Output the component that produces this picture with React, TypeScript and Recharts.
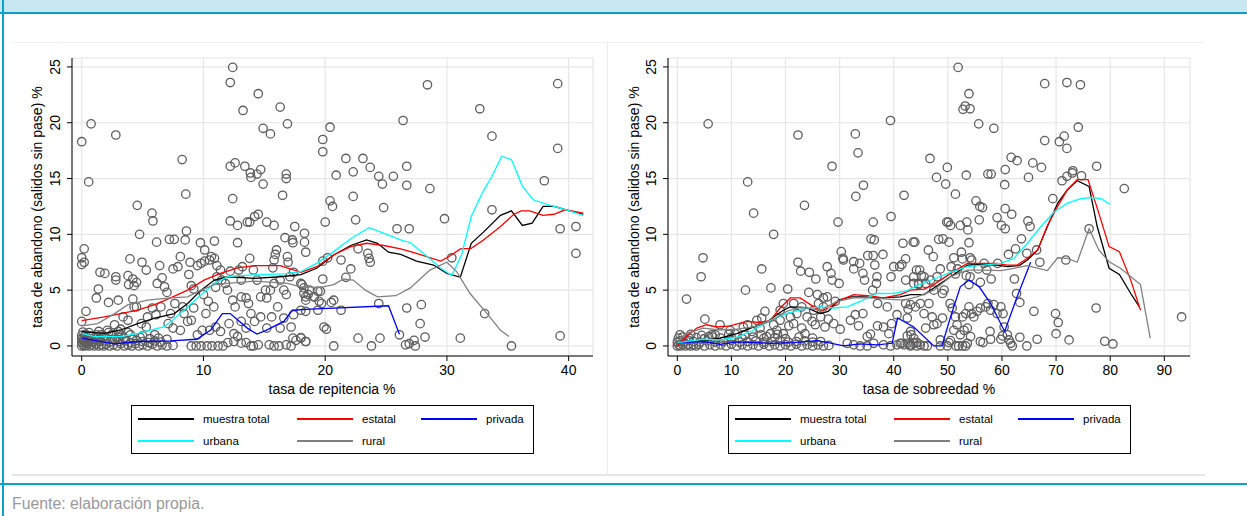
import React from 'react';
import { ScatterChart, Scatter, XAxis, YAxis, CartesianGrid } from 'recharts';

type P = [number, number];

// ---------- ticks ----------
const repTicksX = [0, 10, 20, 30, 40];
const sobTicksX = [0, 10, 20, 30, 40, 50, 60, 70, 80, 90];
const yTicks = [0, 5, 10, 15, 20, 25];

// ---------- panel 1: tasa de repitencia ----------
const repPoints: P[] = [
  [0,18.3],[0.77,19.9],[0.57,14.7],[2.8,18.9],[0,7.9],[0,7.3],[0.2,8.7],[0.2,7.5],[0.35,3.1],[0,2.2],
  [8.25,16.7],[8.55,13.6],[4.56,12.6],[5.77,11.9],[5.85,11.2],[4.75,10.0],[6.15,9.3],[7.2,9.55],[7.6,9.55],[8.6,10.3],[8.5,9.5],[9.75,9.25],[10.1,8.6],[10.9,9.4],
  [12.2,23.6],[12.4,24.96],[13.25,21.1],[14.5,22.6],[16.3,21.4],[14.9,19.5],[15.5,19.0],[16.9,19.9],
  [12.2,16.1],[12.6,16.4],[12.4,13.2],[13.4,16.1],[13.85,15.5],[13.9,15.1],[14.4,15.4],[14.7,15.8],[14.9,14.5],[16.5,13.5],[16.8,15.4],[16.8,15.0],
  [12.2,11.2],[12.8,10.8],[13.6,11.1],[13.8,11.1],[14.2,11.6],[14.5,11.8],[15.2,11.1],[15.8,10.8],[17.5,10.7],
  [12.8,9.25],[16.7,9.7],[17.3,9.5],[17.35,9.25],[18.3,10.1],[18.4,8.4],
  [1.5,6.6],[1.9,6.5],[1.2,4.3],[1.37,5.1],[2.2,3.9],[3.0,4.1],[2.8,5.9],[2.8,6.2],[3.8,6.3],[3.96,7.8],[3.85,5.5],[4.2,6.0],[4.5,5.7],[4.3,5.4],[4.2,4.2],[4.3,3.5],[4.5,3.5],[4.95,7.5],[5.3,6.8],[6.2,5.6],[6.4,7.2],[6.6,6.1],[6.8,5.3],[7.0,4.8],[7.5,6.9],[7.9,7.1],[8.1,8.0],[8.8,6.4],[8.9,7.5],[9.0,5.4],[9.2,5.1],[9.5,7.2],[9.8,7.4],[10.1,7.6],[10.5,7.7],[10.65,8.0],[10.9,7.85],[11.1,7.2],[11.4,6.8],[11.1,6.2],[11.5,5.9],[11.8,5.6],[11.97,5.0],[11.0,5.25],[10.85,3.5],[10.4,4.0],[10.0,4.6],[9.2,3.4],[10.2,2.9],[8.7,2.2],[9.0,2.3],[8.4,2.9],[8.3,3.5],[7.65,3.8],[7.3,2.9],[7.1,2.0],[7.5,1.6],[8.1,1.4],[6.5,3.5],[6.1,2.8],[5.8,3.4],[5.4,2.6],[5.3,1.7],[4.9,2.0],[3.8,2.3],[3.4,2.6],[3.2,1.5],[2.7,1.9],[2.1,1.4],[1.6,1.0],
  [12.2,6.7],[12.9,6.8],[13.2,7.1],[13.1,5.9],[12.4,4.1],[12.6,3.5],[13.1,4.4],[13.5,4.3],[13.7,3.8],[13.8,7.85],[14.1,6.8],[14.4,5.9],[14.7,4.4],[15.1,5.0],[15.2,4.3],[15.5,5.0],[15.8,5.6],[15.9,8.2],[16.0,8.6],[15.8,7.7],[15.7,7.0],[16.3,5.9],[16.6,5.0],[16.8,4.6],[16.9,8.0],[16.95,7.5],[17.1,6.2],[17.4,6.6],[18.0,5.6],[18.25,5.2],[18.4,4.4],[18.7,5.0],[19.1,4.4],[19.4,4.9],[19.5,4.0],[18.0,3.2],[17.4,2.8],[17.2,1.7],[16.6,2.5],[16.3,1.6],[16.1,3.5],[15.6,2.6],[15.2,1.6],[14.7,2.6],[14.2,2.2],[13.9,2.9],[13.5,1.6],[13.1,2.2],[12.8,0.85],[12.5,1.1],[12.1,2.0],[11.4,1.3],[11.0,1.7],[10.5,1.4],[9.9,1.4],[9.5,1.0],
  [17.35,0.7],[17.6,0.5],[18.0,0.7],[18.4,0.4],[15.4,0.1],[15.8,0],[16.2,0],[16.8,0.1],[17.2,0],[13.9,0],[14.1,0],[14.5,0.1],[13.1,0.25],[13.5,0.3],[12.0,0.3],[12.5,0.4],
  [9.0,0],[9.4,0],[9.8,0],[10.3,0],[10.7,0],[11.2,0],[11.6,0],
  [28.4,23.4],[39.1,23.5],[26.4,20.2],[20.4,19.6],[19.8,18.5],[19.8,17.4],[32.7,21.25],[33.7,18.8],[39.1,17.7],[21.7,16.8],[23.1,16.8],[22.3,15.6],[23.7,16.0],[26.7,16.1],[20.9,15.3],[24.4,15.2],[25.6,15.2],[24.7,14.5],[26.7,14.4],[28.6,14.1],[22.3,13.4],[20.4,13.0],[20.6,12.5],[24.8,12.4],[38.0,14.8],[33.7,12.2],[20.0,11.1],[22.5,11.3],[29.8,11.4],[25.9,10.5],[26.9,10.5],[39.3,10.5],[40.6,10.7],[40.6,8.3],[18.3,9.3],[22.7,8.7],[23.5,8.3],[23.6,7.85],[23.7,7.5],[21.3,7.7],[19.8,7.6],[20.2,7.9],[22.1,6.9],[21.7,6.15],[19.8,6.0],[30.4,7.9],[18.1,5.5],[18.25,4.7],[18.6,4.6],[19.1,4.4],[19.6,4.9],[18.4,4.1],[19.7,3.8],[20.5,3.9],[20.7,4.1],[19.4,3.2],[18.4,3.1],[21.3,3.2],[24.4,3.8],[26.7,3.4],[27.9,3.7],[27.8,2.0],[33.1,2.9],[19.9,1.7],[20.1,1.5],[18.0,0.75],[18.4,0.4],[20.7,0],[22.7,0.7],[23.8,0],[24.5,0.7],[26.1,1.0],[26.6,0.1],[26.9,0.2],[27.3,0.5],[27.4,0],[28.2,0.8],[31.1,0.7],[35.3,0],[39.3,0.9],
  [0,0],[0.1,0.15],[0.2,0],[0.3,0.3],[0.4,0.05],[0.5,0.2],[0.6,0],[0.8,0.1],[1.0,0],[1.2,0.2],[1.4,0],[1.6,0.1],[1.8,0],[2.0,0.15],[2.3,0],[2.6,0.1],[2.9,0],[3.2,0.2],[3.5,0],[3.8,0.1],[4.1,0],[4.4,0.2],[4.7,0],[5.0,0.1],[5.4,0],[5.8,0.15],[6.2,0],[6.6,0.1],[7.0,0],[7.5,0.05],
  [0,0.35],[0.15,0.5],[0.35,0.4],[0.6,0.45],[0.9,0.35],[1.2,0.5],[1.5,0.4],[1.9,0.45],[2.3,0.35],[2.7,0.5],[3.1,0.4],[3.6,0.45],[4.0,0.3],[4.5,0.5],[5.0,0.4],[5.5,0.3],[6.0,0.45],[6.5,0.35],
  [0,0.65],[0.2,0.8],[0.5,0.7],[0.8,0.6],[1.1,0.75],[1.5,0.65],[2.0,0.7],[2.5,0.6],[3.0,0.8],[3.5,0.7],[4.2,0.6],[4.8,0.75],[5.6,0.65],[6.3,0.7],[7.0,0.6],
  [0,0.95],[0.3,1.05],[0.7,0.9],[1.2,1.0],[1.8,0.9],[2.5,1.05],[3.3,0.95],[4.0,1.0],[5.0,0.9],[6.0,1.0],
  [0.1,1.25],[0.6,1.2],[1.4,1.3],[2.2,1.2],[3.0,1.3],[3.8,1.2],
];

const repTotal: P[] = [[0,1.28],[1.86,1.13],[3.2,1.43],[4.6,2.0],[6.0,2.5],[7.6,2.9],[8.7,3.8],[9.8,5.0],[10.9,5.9],[12.0,6.2],[14.2,6.06],[16.3,6.2],[18.0,6.4],[19.3,6.96],[20.7,8.15],[22.1,9.0],[23.4,9.5],[24.3,9.2],[25.2,8.4],[26.2,8.2],[27.5,7.6],[28.9,7.25],[30.0,6.5],[31.1,6.15],[32.0,9.2],[33.0,10.2],[34.4,11.7],[35.3,12.1],[36.2,10.8],[37.0,11.0],[37.9,12.5],[38.8,12.5],[39.8,12.2],[41.2,11.8]];
const repEstatal: P[] = [[0,2.27],[1.86,2.6],[3.2,2.9],[4.6,3.2],[6.0,3.7],[7.3,4.3],[8.7,5.0],[10.05,5.9],[11.4,6.5],[12.8,7.0],[14.2,7.2],[16.3,7.2],[18.0,6.6],[19.3,7.1],[20.7,8.15],[22.1,8.9],[23.4,9.2],[24.8,9.0],[26.2,8.7],[27.5,8.3],[28.9,7.8],[29.5,7.6],[30.3,8.1],[31.1,8.7],[32.0,8.75],[33.0,9.5],[34.4,10.7],[35.5,11.8],[36.1,12.1],[36.8,12.1],[37.9,11.7],[38.8,11.8],[39.7,12.2],[41.2,11.9]];
const repPrivada: P[] = [[0,0.7],[2.7,0.18],[4.6,0.4],[7.3,0.45],[9.45,0.6],[10.6,1.43],[11.55,2.9],[12.2,2.9],[13.6,1.6],[14.4,1.07],[15.1,1.37],[16.6,2.2],[17.3,3.2],[18.8,3.3],[25.2,3.6],[26.1,1.04]];
const repUrbana: P[] = [[0,1.13],[1.04,0.84],[3.2,0.84],[4.6,1.13],[6.8,1.73],[8.1,2.9],[9.5,4.3],[10.9,5.6],[12.0,6.2],[12.8,6.3],[14.2,6.36],[16.6,6.45],[18.0,6.66],[19.3,7.4],[20.7,8.45],[22.1,9.6],[23.6,10.6],[24.8,10.1],[26.2,9.5],[27.0,9.25],[28.4,8.0],[29.5,6.96],[30.4,6.3],[31.2,8.15],[32.0,11.6],[32.9,13.7],[33.7,15.2],[34.5,17.0],[35.3,16.7],[36.2,14.3],[37.1,13.1],[38.5,12.6],[39.8,12.2],[41.2,11.7]];
const repRural: P[] = [[0,1.8],[1.3,2.0],[2.7,2.9],[3.8,3.7],[5.4,4.1],[7.3,4.3],[8.7,4.4],[9.8,5.0],[10.9,5.5],[12.0,5.6],[14.2,5.8],[16.9,5.6],[18.0,5.3],[19.6,5.25],[20.7,5.5],[21.5,6.0],[22.3,5.9],[23.3,5.0],[24.3,4.4],[25.8,4.5],[27.0,5.2],[28.6,6.8],[30.0,7.5],[30.8,6.66],[31.9,4.7],[33.3,2.9],[34.4,1.4],[35.1,0.84]];

// ---------- panel 2: tasa de sobreedad ----------
const sobPoints: P[] = [
  [5.7,19.9],[22.3,18.9],[32.9,19.0],[33.4,17.3],[39.4,20.2],[28.6,16.1],[13.0,14.7],[34.4,14.4],[33.0,13.4],[41.9,13.5],[23.5,12.6],[14.1,11.9],[29.7,11.1],[36.2,11.1],[39.5,11.6],[17.8,10.0],[4.75,7.9],[4.4,6.2],[1.7,4.2],[5.1,2.4],[12.6,5.0],[15.6,6.9],[17.3,5.2],[20.4,5.1],[19.0,3.2],[16.2,3.1],[14.7,2.3],[15.6,2.5],[13.0,1.9],[12.2,1.7],[7.9,1.9],[5.8,0.84],[6.4,1.0],
  [22.3,7.5],[22.8,6.7],[24.4,6.6],[25.6,6.0],[24.3,4.8],[25.9,4.6],[27.0,4.3],[27.7,4.4],[29.2,4.0],[27.7,7.1],[28.4,6.5],[28.6,5.9],[29.9,5.6],[30.3,8.45],[30.6,7.85],[30.7,7.7],[32.6,7.55],[32.6,6.9],[33.7,7.4],[34.3,6.5],[34.6,5.9],[35.2,8.1],[35.8,9.6],[36.4,9.5],[36.2,8.1],[36.5,7.25],[36.9,6.2],[36.8,5.6],[38.0,8.2],[36.1,5.0],[37.0,3.8],[38.8,3.5],[39.5,6.2],[40.0,7.1],[41.1,7.1],[41.5,7.3],[42.2,7.8],[41.7,9.2],[43.6,9.3],[43.9,9.3],[44.2,6.8],[43.7,6.2],[44.6,5.6],
  [23.6,1.1],[23.0,1.6],[21.5,2.0],[20.6,1.8],[19.0,2.3],[18.4,1.4],[17.2,1.1],[24.9,2.2],[25.5,1.9],[26.5,2.6],[27.3,1.7],[27.9,2.4],[28.9,2.0],[30.1,1.5],[32.0,2.3],[32.9,2.8],[33.5,1.8],[34.3,2.9],[35.1,0.84],[35.7,1.07],[37.0,1.8],[38.1,1.7],[39.1,1.1],[39.6,2.0],[40.6,2.8],[41.2,0.24],[42.5,0.9],[43.1,1.3],[44.3,0.3],[42.5,2.5],[42.2,3.8],[42.65,3.3],
  [9.75,1.4],[10.7,1.1],[13.8,1.3],[15.3,1.6],[16.5,0.84],[17.8,1.9],[19.6,1.1],[20.9,2.6],[22.1,2.9],[24.0,2.6],[25.2,3.2],[26.1,3.8],[27.0,3.5],[21.5,3.8],[23.0,3.5],[19.6,3.8],
  [31.4,0.24],[32.6,0.1],[33.8,0],[35.1,0],[36.3,0.24],[38.1,0.1],[39.4,0],[40.6,0.1],[41.5,0.24],[43.1,0],[44.3,0],
  [51.9,24.96],[53.9,22.6],[52.8,21.2],[53.2,21.5],[54.1,21.25],[55.7,19.9],[58.5,19.5],[67.9,23.5],[72.0,23.6],[74.5,23.4],[74.1,19.6],[67.9,18.4],[70.6,18.3],[71.5,18.8],[72.0,17.7],[46.7,16.8],[61.7,16.9],[62.8,16.6],[49.9,16.0],[65.7,16.4],[67.3,16.0],[77.5,16.1],[60.6,15.8],[47.9,15.1],[53.4,15.3],[57.4,15.4],[58.0,15.4],[60.5,14.45],[64.9,15.1],[49.6,14.5],[71.1,14.8],[72.0,15.2],[73.0,15.5],[73.1,15.7],[74.7,15.25],[82.6,14.1],[51.4,13.6],[55.2,13.0],[55.9,12.5],[56.4,12.4],[69.4,13.2],[60.6,12.3],[61.8,11.8],[55.8,11.3],[59.1,11.5],[49.8,11.1],[50.1,11.1],[50.5,10.8],[52.3,10.8],[53.5,11.1],[53.7,10.4],[59.9,10.8],[60.6,10.5],[64.8,11.2],[65.2,10.7],[76.1,10.5],
  [48.3,9.55],[49.1,9.6],[50.2,9.3],[53.9,9.25],[63.6,9.6],[46.4,8.6],[47.3,8.0],[51.1,7.9],[52.7,7.8],[52.5,8.4],[54.1,7.9],[54.4,7.7],[61.2,8.2],[62.5,8.7],[64.6,8.3],[66.4,8.6],[67.0,7.5],[71.8,7.7],[44.8,6.8],[45.1,6.3],[45.6,6.2],[48.6,6.9],[48.0,6.2],[50.6,7.1],[51.8,6.9],[51.4,6.45],[53.4,6.3],[55.6,6.9],[57.2,6.8],[56.7,7.4],[59.2,7.4],[58.0,6.0],[56.0,5.7],[53.9,5.5],[54.1,6.2],[62.3,6.0],[62.7,4.7],[63.3,3.9],[65.9,3.1],[69.9,2.9],[70.4,2.1],[70.0,1.1],[72.4,0.54],[77.4,3.4],[79.0,0.42],[80.5,0.18],[93.2,2.6],
  [42.2,5.9],[43.7,5.6],[44.6,5.5],[45.9,5.6],[46.8,5.9],[47.4,5.0],[49.0,4.7],
  [43.1,3.7],[44.0,3.5],[44.9,3.8],[45.6,2.9],[46.5,3.8],[47.1,2.6],[48.0,2.0],[49.0,2.5],[49.3,5.0],[50.4,3.8],[50.8,3.4],[51.4,2.6],[51.7,1.9],[52.7,2.6],[53.3,2.9],[53.9,3.5],[54.4,2.9],[54.8,2.6],[55.4,3.1],[56.0,3.4],[57.0,3.5],[57.4,3.8],[57.9,3.2],[58.5,3.7],[59.1,2.9],[59.8,3.5],[60.2,2.9],[60.4,1.7],[61.0,1.0],[61.3,0.54],[61.6,0.24],[61.9,0],[63.3,0.78],[64.6,0],[66.5,0.6],[59.8,0.6],[60.1,0.9],
  [41.9,0.1],[42.5,0.24],[43.1,0.1],[43.7,0.24],[44.3,0.3],[44.9,0.1],[45.6,0],[46.2,0],[48.6,0],[49.9,0],[50.2,0.3],[50.5,0.48],[51.5,0],[52.0,0],[52.7,0],[53.3,0],[53.6,0.24],[54.2,0.84],[56.0,0.4],[56.5,0.3],[57.9,0.6],[57.8,1.3],
  [43.2,1.0],[43.7,0.7],[45.9,1.6],[47.4,1.9],[48.6,0.54],[51.1,1.4],[53.0,1.4],[53.6,1.6],[52.3,1.0],
  [0,0],[0.3,0.1],[0.6,0],[1,0.15],[1.5,0],[2,0.1],[2.5,0],[3,0.1],[3.5,0],[4,0.15],[5,0],[6,0.1],[7,0],[8,0.1],[9,0],[10,0.15],[11,0],[12,0.1],[13,0],[14,0.1],[15,0],[16,0.15],[17,0],[18,0.1],[19,0],[20,0.1],[21,0],[22,0.15],[23,0],[24,0.1],[25,0],[26,0.1],[27,0],[28,0.05],
  [0,0.35],[0.5,0.45],[1.2,0.35],[2,0.5],[3,0.4],[4.2,0.35],[5.5,0.45],[7,0.35],[8.5,0.4],[10,0.5],[11.5,0.35],[13,0.4],[14.5,0.45],[16,0.35],[17.5,0.4],[19,0.5],[20.5,0.35],[22,0.4],[23.5,0.45],[25,0.35],[26.5,0.4],
  [0.2,0.7],[1,0.8],[2.2,0.7],[3.5,0.75],[5,0.65],[6.5,0.8],[8,0.7],[10,0.75],[12,0.65],[14,0.8],[16,0.7],[18,0.75],[20,0.65],[22.5,0.8],[25,0.7],
  [0.5,1.0],[2.5,1.05],[4.5,0.95],[7,1.0],[9.5,1.05],[12.5,0.95],[15.5,1.0],[18.5,1.05],
];

const sobTotal: P[] = [[0,0.3],[1.7,0.4],[4.8,0.48],[7.9,0.7],[11.0,1.1],[14.1,1.7],[16.5,2.1],[17.8,2.6],[19.6,3.2],[20.9,3.5],[24.0,3.4],[26.4,2.9],[27.9,3.1],[29.8,4.1],[32.0,4.4],[34.4,4.4],[38.1,4.3],[41.2,4.4],[43.1,4.6],[45.6,4.6],[47.4,5.2],[50.5,6.2],[53.6,7.25],[56.6,7.3],[59.1,7.25],[61.0,7.1],[63.2,7.2],[64.7,7.7],[66.6,8.6],[68.4,10.7],[70.3,12.8],[72.1,14.0],[73.9,14.8],[76.1,14.3],[77.6,10.7],[79.8,6.96],[81.7,6.4],[83.8,4.7],[85.4,3.5]];
const sobEstatal: P[] = [[0,0],[1.7,0.84],[3.6,1.6],[5.4,1.9],[7.3,1.7],[9.75,1.8],[12.8,2.2],[15.3,2.1],[17.2,2.3],[19.0,3.4],[20.9,4.3],[22.7,4.3],[24.6,3.7],[26.4,3.1],[28.3,3.5],[30.1,4.1],[32.6,4.6],[35.1,4.5],[38.1,4.3],[41.2,4.6],[43.1,5.0],[45.6,5.1],[47.4,5.5],[50.5,6.5],[53.6,7.4],[56.6,7.4],[59.1,7.4],[61.0,7.25],[62.8,7.25],[64.7,7.85],[66.6,8.6],[68.4,10.8],[70.3,12.5],[72.1,14.0],[73.9,14.9],[75.9,14.9],[77.9,11.9],[79.8,8.9],[81.7,8.45],[83.8,5.9],[85.6,3.2]];
const sobPrivada: P[] = [[0,0.3],[4.8,0.4],[7.9,0.15],[11.0,0.36],[14.1,0.3],[17.2,0.24],[21.5,0.3],[25.8,0.48],[27.9,0.3],[30.7,0],[33.8,0.18],[36.9,0.09],[39.7,0.24],[40.7,2.5],[43.7,1.7],[47.4,0],[48.9,0],[50.5,2.6],[52.3,5.3],[53.9,5.9],[55.8,5.3],[57.9,3.8],[60.5,1.3],[62.8,4.4],[65.3,7.5]];
const sobUrbana: P[] = [[0,0.3],[4.8,0.6],[7.9,0.54],[11.0,0.78],[14.1,1.43],[17.2,2.3],[20.2,2.9],[23.3,3.3],[26.4,3.5],[28.9,3.4],[31.4,3.5],[33.8,4.0],[36.9,4.7],[40.0,4.7],[42.5,4.96],[44.3,5.4],[47.4,6.0],[50.5,6.6],[53.6,7.1],[56.6,7.25],[59.8,7.4],[62.2,7.85],[64.7,9.2],[67.2,10.7],[69.6,12.0],[72.1,12.8],[74.6,13.2],[76.4,13.3],[78.3,13.2],[80.0,12.7]];
const sobRural: P[] = [[0,0.3],[1.7,1.13],[4.8,1.6],[7.9,1.43],[11.0,1.5],[14.1,1.7],[17.2,2.2],[20.2,3.1],[22.7,3.5],[26.4,3.2],[29.5,4.0],[32.6,4.3],[35.7,4.3],[38.8,4.2],[41.9,4.1],[44.3,4.4],[47.4,5.0],[50.5,6.2],[53.6,6.8],[56.6,6.8],[59.8,6.75],[62.2,6.96],[64.7,7.2],[68.4,6.75],[70.3,7.9],[72.1,7.85],[73.9,7.5],[76.1,10.5],[77.9,8.6],[79.8,7.55],[81.9,6.96],[85.6,5.5],[87.4,0.7]];

// ---------- labels ----------
const yTitle = 'tasa de abandono (salidos sin pase) %';
const repTitle = 'tasa de repitencia %';
const sobTitle = 'tasa de sobreedad %';
const legendItems = [
  { name: 'muestra total', color: '#000000' },
  { name: 'estatal', color: '#ff0000' },
  { name: 'privada', color: '#0000ff' },
  { name: 'urbana', color: '#00ffff' },
  { name: 'rural', color: '#808080' },
];
const footer = 'Fuente: elaboración propia.';

const FONT = 'Arial, "Liberation Sans", Helvetica, sans-serif';
const toXY = (a: P[]) => a.map(([x, y]) => ({ x, y }));

const Circle = (props: any) => (
  <circle cx={props.cx} cy={props.cy} r={4.2} fill="none" stroke="#5e5e5e" strokeWidth={1.3} />
);
const NoShape = () => <g />;

const YTick = (props: any) => {
  const { x, y, payload } = props;
  const bx = x - 5;
  return (
    <text x={bx} y={y} transform={`rotate(-90 ${bx} ${y})`} textAnchor="middle" fontSize={14} fill="#000" fontFamily={FONT}>
      {payload.value}
    </text>
  );
};

const XTick = (props: any) => {
  const { x, y, payload } = props;
  return (
    <text x={x} y={y + 12} textAnchor="middle" fontSize={14} fill="#000" fontFamily={FONT}>
      {payload.value}
    </text>
  );
};

type LineSet = { data: P[]; color: string }[];

function Panel(props: {
  left: number; width: number; marginLeft: number; marginRight: number;
  xDomain: [number, number]; xTicks: number[]; points: P[]; lines: LineSet;
}) {
  const { left, width, marginLeft, marginRight, xDomain, xTicks, points, lines } = props;
  return (
    <div style={{ position: 'absolute', left, top: 0 }}>
      <ScatterChart width={width} height={400} margin={{ top: 58, right: marginRight, bottom: 4, left: marginLeft }}>
        <CartesianGrid stroke="#e6e6e6" strokeWidth={1.2} />
        <XAxis type="number" dataKey="x" domain={xDomain} ticks={xTicks} allowDataOverflow
          axisLine={{ stroke: '#000' }} tickLine={{ stroke: '#000' }} tickSize={5} height={40} tick={<XTick />} interval={0} />
        <YAxis type="number" dataKey="y" domain={[-0.9, 25.8]} ticks={yTicks} allowDataOverflow
          axisLine={{ stroke: '#000' }} tickLine={{ stroke: '#000' }} tickSize={5} width={60} tick={<YTick />} interval={0} />
        <Scatter data={toXY(points)} shape={<Circle />} isAnimationActive={false} />
        {lines.map((l, i) => (
          <Scatter key={i} data={toXY(l.data)} shape={<NoShape />} line={{ stroke: l.color, strokeWidth: 1.3 }}
            lineType="joint" isAnimationActive={false} />
        ))}
      </ScatterChart>
    </div>
  );
}

function Legend(props: { left: number }) {
  const cols = [6, 165, 289];
  return (
    <div style={{ position: 'absolute', left: props.left, top: 405, width: 401, height: 47, border: '1px solid #000', background: '#fff', fontFamily: FONT, fontSize: 11.5 }}>
      {legendItems.map((it, i) => {
        const row = Math.floor(i / 3);
        const col = i % 3;
        const cy = row === 0 ? 13 : 35;
        return (
          <div key={it.name}>
            <div style={{ position: 'absolute', left: cols[col], top: cy - 1, width: 56, height: 2, background: it.color }} />
            <div style={{ position: 'absolute', left: cols[col] + 65, top: cy - 8, lineHeight: '16px', color: '#000', whiteSpace: 'nowrap' }}>{it.name}</div>
          </div>
        );
      })}
    </div>
  );
}

export default function App() {
  const repLines: LineSet = [
    { data: repTotal, color: '#000000' },
    { data: repEstatal, color: '#ff0000' },
    { data: repPrivada, color: '#0000ff' },
    { data: repUrbana, color: '#00ffff' },
    { data: repRural, color: '#808080' },
  ];
  const sobLines: LineSet = [
    { data: sobTotal, color: '#000000' },
    { data: sobEstatal, color: '#ff0000' },
    { data: sobPrivada, color: '#0000ff' },
    { data: sobUrbana, color: '#00ffff' },
    { data: sobRural, color: '#808080' },
  ];
  const titleStyle: React.CSSProperties = { position: 'absolute', fontFamily: FONT, fontSize: 14, lineHeight: '16px', whiteSpace: 'nowrap', color: '#000' };
  return (
    <div style={{ position: 'absolute', left: 0, top: 0, width: 1247, height: 516, background: '#fff', overflow: 'hidden' }}>
      {/* header band */}
      <div style={{ position: 'absolute', left: 0, top: 0, width: 1247, height: 12, background: '#c8e7f1' }} />
      <div style={{ position: 'absolute', left: 0, top: 12, width: 1247, height: 2, background: '#0aa2c6' }} />
      <div style={{ position: 'absolute', left: 2, top: 0, width: 2, height: 516, background: '#0aa2c6' }} />
      <div style={{ position: 'absolute', left: 0, top: 483, width: 1247, height: 2, background: '#0aa2c6' }} />
      {/* panel frames */}
      <div style={{ position: 'absolute', left: 12, top: 42, width: 1192, height: 1, background: '#efefef' }} />
      <div style={{ position: 'absolute', left: 607, top: 42, width: 1, height: 433, background: '#ececec' }} />
      <div style={{ position: 'absolute', left: 12, top: 474, width: 1193, height: 2, background: '#e6e6e6' }} />

      <Panel left={12} width={595} marginLeft={0} marginRight={14} xDomain={[-0.8, 42]} xTicks={repTicksX} points={repPoints} lines={repLines} />
      <Panel left={607} width={598} marginLeft={1} marginRight={15} xDomain={[-1.72, 94.75]} xTicks={sobTicksX} points={sobPoints} lines={sobLines} />

      {/* axis titles */}
      <div style={{ ...titleStyle, left: 37, top: 207, transform: 'translate(-50%, -50%) rotate(-90deg)' }}>{yTitle}</div>
      <div style={{ ...titleStyle, left: 634, top: 207, transform: 'translate(-50%, -50%) rotate(-90deg)' }}>{yTitle}</div>
      <div style={{ ...titleStyle, left: 332, top: 381, transform: 'translateX(-50%)' }}>{repTitle}</div>
      <div style={{ ...titleStyle, left: 929, top: 381, transform: 'translateX(-50%)' }}>{sobTitle}</div>

      <Legend left={131} />
      <Legend left={728} />

      <div style={{ position: 'absolute', left: 12, top: 495, fontFamily: FONT, fontSize: 15.8, lineHeight: '18px', color: '#999', whiteSpace: 'nowrap' }}>{footer}</div>
    </div>
  );
}
